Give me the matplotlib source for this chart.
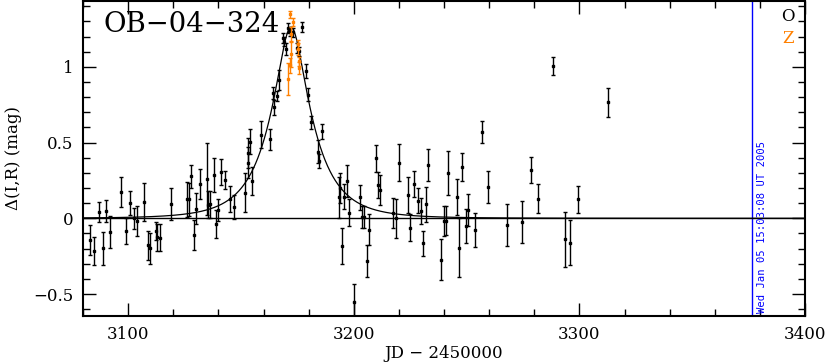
import numpy as np
import matplotlib
matplotlib.use("Agg")
import matplotlib.pyplot as plt
from matplotlib.ticker import MultipleLocator, FixedLocator

plt.rcParams["font.family"] = ["DejaVu Serif", "DejaVu Sans"]

# ---------------- data ----------------
title = "OB\u221204\u2212324"
date_stamp = "Wed Jan 05 15:03:08 UT 2005"

obs_O_jd = [3083.1, 3085.0, 3087.1, 3088.9, 3090.2, 3092.0, 3097.0, 3099.2, 3101.0, 3102.7,
            3104.0, 3106.9, 3109.0, 3109.8, 3112.2, 3112.8, 3114.0, 3119.1, 3126.0, 3127.0,
            3128.0, 3129.0, 3130.0, 3131.9, 3134.8, 3135.3, 3136.2, 3138.0, 3139.0, 3140.0,
            3141.2, 3143.0, 3145.0, 3147.0, 3152.0, 3153.9, 3153.0, 3153.0, 3155.0, 3159.0,
            3163.0, 3164.1, 3164.8, 3165.9, 3166.9, 3168.7, 3169.1, 3169.9, 3171.0, 3171.8,
            3173.0, 3175.0, 3175.6, 3177.1, 3179.0, 3179.9, 3181.1, 3184.2, 3184.8, 3186.1,
            3193.6, 3194.0, 3194.9, 3195.8, 3196.9, 3197.8, 3200.0, 3202.8, 3203.8, 3204.7,
            3205.8, 3206.9, 3209.9, 3210.9, 3211.8, 3217.6, 3218.8, 3219.9, 3223.9, 3224.8,
            3226.9, 3228.6, 3229.7, 3230.9, 3231.9, 3232.8, 3238.8, 3240.0, 3240.9, 3241.8,
            3245.8, 3246.8, 3247.8, 3249.8, 3250.8, 3253.8, 3256.7, 3259.7, 3267.8, 3274.7,
            3278.6, 3281.7, 3288.5, 3293.7, 3295.7, 3299.5, 3312.8]
obs_O_dmag = [-0.144, -0.217, 0.040, -0.199, 0.048, -0.089, 0.172, -0.084, 0.099, 0.000,
              -0.018, 0.106, -0.179, -0.199, -0.082, -0.126, -0.128, 0.095, 0.126, 0.126,
              0.278, -0.108, 0.064, 0.225, 0.260, 0.090, 0.093, 0.287, -0.038, 0.055,
              0.307, 0.254, 0.128, 0.077, 0.170, 0.507, 0.430, 0.368, 0.249, 0.552,
              0.523, 0.828, 0.733, 0.805, 0.916, 1.192, 1.166, 1.119, 1.258, 1.236,
              1.229, 1.126, 1.103, 1.262, 0.973, 0.817, 0.633, 0.441, 0.379, 0.574,
              0.139, 0.199, -0.183, 0.143, 0.247, 0.037, -0.552, 0.139, 0.007, 0.007,
              -0.283, -0.075, 0.397, 0.221, 0.187, 0.037, 0.000, 0.368, 0.154, -0.062,
              0.225, 0.115, 0.050, -0.166, 0.093, 0.351, -0.272, -0.018, -0.016, 0.298,
              0.139, -0.195, 0.338, -0.051, 0.055, -0.077, 0.570, 0.205, -0.046, -0.023,
              0.320, 0.130, 1.004, -0.139, -0.161, 0.126, 0.766]
obs_O_err = [0.097, 0.092, 0.066, 0.106, 0.072, 0.104, 0.100, 0.086, 0.080, 0.070,
             0.097, 0.125, 0.096, 0.100, 0.060, 0.090, 0.090, 0.104, 0.117, 0.110,
             0.077, 0.100, 0.100, 0.100, 0.237, 0.090, 0.090, 0.110, 0.094, 0.070,
             0.085, 0.060, 0.085, 0.080, 0.127, 0.080, 0.100, 0.100, 0.092, 0.090,
             0.070, 0.040, 0.050, 0.033, 0.066, 0.033, 0.030, 0.040, 0.033, 0.030,
             0.030, 0.033, 0.030, 0.033, 0.044, 0.044, 0.040, 0.077, 0.044, 0.050,
             0.136, 0.100, 0.118, 0.083, 0.105, 0.088, 0.120, 0.083, 0.074, 0.074,
             0.105, 0.103, 0.088, 0.088, 0.100, 0.100, 0.130, 0.121, 0.120, 0.088,
             0.085, 0.083, 0.086, 0.083, 0.114, 0.107, 0.137, 0.097, 0.097, 0.147,
             0.118, 0.195, 0.092, 0.114, 0.105, 0.114, 0.070, 0.107, 0.138, 0.138,
             0.084, 0.097, 0.058, 0.180, 0.150, 0.090, 0.096]

obs_Z_jd = [3171.9, 3173.1, 3172.2, 3172.2, 3171.9, 3170.9, 3175.3, 3175.5, 3175.7, 3175.7]
obs_Z_dmag = [1.346, 1.295, 1.218, 1.084, 1.011, 0.920, 1.148, 1.119, 1.037, 0.993]
obs_Z_err = [0.022, 0.025, 0.044, 0.083, 0.050, 0.105, 0.028, 0.040, 0.030, 0.040]

# point-lens model fit parameters
fit_t0 = 3172.2
fit_tE = 18.0
fit_u0 = 0.325

date_line_jd = 3376.4

x_range = (3080, 3400)
y_range = (-0.645, 1.435)
x_major = [3100, 3200, 3300, 3400]
y_major = [-0.5, 0, 0.5, 1]
y_major_labels = ["\u22120.5", "0", "0.5", "1"]

# ---------------- plot ----------------
ORANGE = (1.0, 0.5, 0.0)
BLUE = (0.0, 0.0, 1.0)

fig = plt.figure(figsize=(8.28, 3.62), dpi=100)
ax = fig.add_axes([83 / 828, 1 - 316 / 362, (805 - 83) / 828, 315 / 362])

t = np.linspace(x_range[0], x_range[1], 2000)
u = np.sqrt(fit_u0 ** 2 + ((t - fit_t0) / fit_tE) ** 2)
A = (u ** 2 + 2) / (u * np.sqrt(u ** 2 + 4))
ax.plot(t, 2.5 * np.log10(A), color="black", lw=0.9, zorder=2)
ax.axhline(0, color="black", lw=1.0, zorder=2)

ax.errorbar(obs_O_jd, obs_O_dmag, yerr=obs_O_err, fmt="s", color="black",
            ms=1.8, elinewidth=1.0, capsize=1.5, capthick=1.0, zorder=3)
ax.errorbar(obs_Z_jd, obs_Z_dmag, yerr=obs_Z_err, fmt="s", color=ORANGE,
            ms=1.8, elinewidth=1.0, capsize=1.5, capthick=1.0, zorder=4)

ax.axvline(date_line_jd, color=BLUE, lw=1.0, zorder=1)
ax.text(date_line_jd + 2.3, y_range[0] + 0.02, date_stamp, rotation=90,
        color=BLUE, fontsize=7.6, family="DejaVu Sans Mono",
        ha="left", va="bottom")

ax.text(3089, 1.28, title, fontsize=19.8, color="black", ha="left", va="center")

ax.text(3392.5, 1.33, "O", fontsize=12, color="black", ha="center", va="center")
ax.text(3392.5, 1.19, "Z", fontsize=12, color=ORANGE, ha="center", va="center")

ax.set_xlim(*x_range)
ax.set_ylim(*y_range)
ax.xaxis.set_major_locator(FixedLocator(x_major))
ax.xaxis.set_minor_locator(MultipleLocator(20))
ax.yaxis.set_major_locator(FixedLocator(y_major))
ax.yaxis.set_minor_locator(MultipleLocator(0.1))
ax.set_yticklabels(y_major_labels)

ax.tick_params(which="both", direction="in", top=True, right=True, width=1.0,
               labelsize=12)
ax.tick_params(which="major", length=9.5, pad=7)
ax.tick_params(which="minor", length=4.8)
for s in ax.spines.values():
    s.set_linewidth(1.5)

ax.set_xlabel("JD \u2212 2450000", fontsize=12, labelpad=2)
ax.set_ylabel("\u0394(I,R) (mag)", fontsize=12, labelpad=8)

fig.savefig("out.png", dpi=100)
